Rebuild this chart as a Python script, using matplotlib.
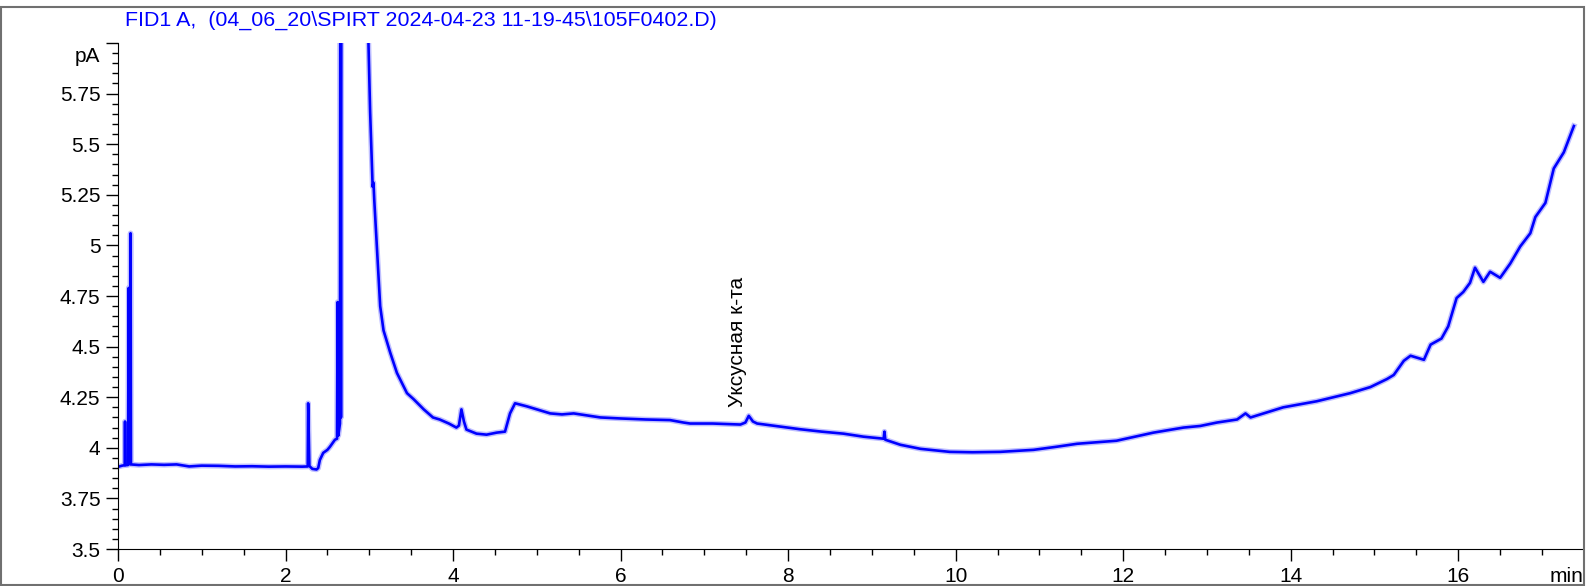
import matplotlib
matplotlib.use("Agg")
import matplotlib.pyplot as plt
from matplotlib.patches import Rectangle
from matplotlib.ticker import MultipleLocator, FuncFormatter

plt.rcParams['font.family'] = ['Liberation Sans', 'DejaVu Sans']

# хроматограмма FID1 A (время, мин / сигнал, pA)
time_min = [0.00, 0.05, 0.080, 0.084, 0.088, 0.12, 0.128, 0.132, 0.145, 0.150, 0.155,
            0.25, 0.40, 0.55, 0.70, 0.85, 1.00, 1.20, 1.40, 1.60, 1.80, 2.00, 2.20,
            2.265, 2.27, 2.285, 2.32, 2.37, 2.39, 2.41, 2.45, 2.50, 2.53, 2.59,
            2.615, 2.622, 2.630, 2.650, 2.655, 2.662, 2.668, 2.80, 2.96, 2.99,
            3.01, 3.04, 3.05, 3.06, 3.09, 3.13, 3.17, 3.25, 3.33, 3.45, 3.53, 3.65,
            3.76, 3.84, 3.95, 4.04, 4.07, 4.10, 4.13, 4.16, 4.28, 4.40, 4.52, 4.62,
            4.68, 4.74, 4.88, 5.00, 5.16, 5.30, 5.44, 5.60, 5.76, 6.00, 6.30, 6.59,
            6.75, 6.83, 7.10, 7.43, 7.49, 7.53, 7.58, 7.63, 7.90, 8.14, 8.40, 8.66,
            8.90, 9.14, 9.15, 9.16, 9.34, 9.58, 9.93, 10.20, 10.53, 10.93, 11.20,
            11.45, 11.92, 12.36, 12.72, 12.92, 13.12, 13.36, 13.46, 13.52, 13.91,
            14.31, 14.71, 14.95, 15.15, 15.23, 15.35, 15.43, 15.59, 15.67, 15.80,
            15.88, 15.98, 16.06, 16.14, 16.20, 16.30, 16.38, 16.50, 16.62, 16.74,
            16.86, 16.92, 17.04, 17.14, 17.26, 17.38]
signal_pa = [3.906, 3.912, 3.914, 4.13, 3.914, 3.915, 4.79, 3.92, 3.92, 5.06, 3.918,
             3.915, 3.918, 3.916, 3.918, 3.908, 3.912, 3.911, 3.908, 3.909, 3.907, 3.908, 3.907,
             3.908, 4.22, 3.91, 3.896, 3.893, 3.90, 3.94, 3.975, 3.99, 4.005, 4.04,
             4.045, 4.72, 4.06, 4.12, 6.8, 4.15, 6.8, 9.0, 7.0, 6.0,
             5.66, 5.29, 5.31, 5.22, 5.00, 4.70, 4.58, 4.47, 4.37, 4.27, 4.24, 4.19,
             4.15, 4.14, 4.12, 4.10, 4.11, 4.19, 4.13, 4.09, 4.07, 4.065, 4.075, 4.08,
             4.17, 4.22, 4.205, 4.19, 4.17, 4.165, 4.17, 4.16, 4.15, 4.145, 4.14, 4.137,
             4.125, 4.12, 4.12, 4.115, 4.125, 4.158, 4.13, 4.12, 4.105, 4.092, 4.08, 4.07,
             4.055, 4.045, 4.08, 4.04, 4.015, 3.995, 3.98, 3.978, 3.98, 3.99, 4.005,
             4.02, 4.035, 4.075, 4.10, 4.108, 4.125, 4.14, 4.17, 4.15, 4.20,
             4.23, 4.27, 4.30, 4.34, 4.36, 4.43, 4.455, 4.435, 4.51, 4.54,
             4.60, 4.74, 4.77, 4.815, 4.89, 4.82, 4.87, 4.84, 4.91, 4.995,
             5.06, 5.14, 5.21, 5.38, 5.46, 5.59]

peak_label = "Уксусная к-та"
peak_time = 7.39
peak_label_y = 4.20

title = r"FID1 A,  (04_06_20\SPIRT 2024-04-23 11-19-45\105F0402.D)"

fig = plt.figure(figsize=(15.88, 5.86), dpi=100)
ax = fig.add_axes([0.0743, 0.0631, 0.9226, 0.8635])

ax.plot(time_min, signal_pa, color='#0000ff', lw=4.0, alpha=0.25)
ax.plot(time_min, signal_pa, color='#0000ff', lw=1.9)

ax.set_xlim(0, 17.49)
ax.set_ylim(3.5, 6.0)

ax.xaxis.set_major_locator(MultipleLocator(2))
ax.xaxis.set_minor_locator(MultipleLocator(0.5))
ax.yaxis.set_major_locator(MultipleLocator(0.25))
ax.yaxis.set_minor_locator(MultipleLocator(0.05))
ax.yaxis.set_major_formatter(FuncFormatter(lambda v, p: '' if v > 5.9 else '%g' % v))

ax.tick_params(which='major', length=8.6, width=1, labelsize=15, pad=4)
ax.tick_params(which='minor', length=4, width=1)

ax.spines['top'].set_visible(False)
ax.spines['right'].set_visible(False)

ax.annotate('pA', xy=(0, 5.935), xycoords=('axes fraction', 'data'),
            xytext=(-13, 0), textcoords='offset points', ha='right', va='center', fontsize=15)
ax.annotate('min', xy=(1, 0), xycoords='axes fraction',
            xytext=(0, -13), textcoords='offset points', ha='right', va='top', fontsize=15)

ax.text(peak_time, peak_label_y, peak_label, rotation=90, ha='center', va='bottom', fontsize=15)

fig.text(125 / 1588, 1 - 20 / 586, title, color='#0000ff', fontsize=15.4, ha='left', va='center')

# рамка вокруг всего рисунка
fig.patches.append(Rectangle((0.0005, 0.0017), 0.997, 0.9857, transform=fig.transFigure,
                             fill=False, ec='#707070', lw=1.5))

fig.savefig('out.png', dpi=100)
